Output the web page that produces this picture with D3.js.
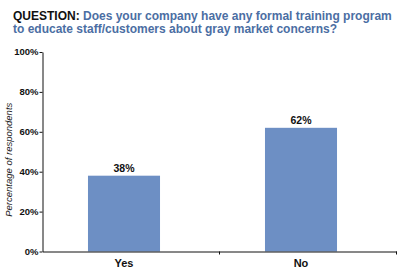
<!DOCTYPE html>
<html>
<head>
<meta charset="utf-8">
<script src="https://cdn.jsdelivr.net/npm/d3@7"></script>
<style>
  body { margin: 0; background: #fff; }
  svg text { font-family: "Liberation Sans", Arial, Helvetica, sans-serif; }
</style>
</head>
<body>
<div id="chart"></div>
<script>
const categories = ["Yes", "No"];
const values = [38, 62];
const yTicks = [0, 20, 40, 60, 80, 100];
const questionLabel = "QUESTION:";
const questionLines = [
    "Does your company have any formal training program",
    "to educate staff/customers about gray market concerns?"
];
const yTitle = "Percentage of respondents";

const WIDTH = 400, HEIGHT = 279;
const MARGIN = {LEFT: 42.5, RIGHT: 3.5, TOP: 52, BOTTOM: 27.5};

const svg = d3.select("#chart").append("svg")
    .attr("width", WIDTH)
    .attr("height", HEIGHT);

// title
const title = svg.append("text")
    .attr("x", 13)
    .attr("y", 20)
    .attr("font-size", 12)
    .attr("font-weight", "bold");
title.append("tspan").attr("fill", "#111").text(questionLabel + " ");
title.append("tspan").attr("fill", "#4b6ea3").text(questionLines[0]);
svg.append("text")
    .attr("x", 13)
    .attr("y", 32.5)
    .attr("font-size", 12)
    .attr("font-weight", "bold")
    .attr("fill", "#4b6ea3")
    .text(questionLines[1]);

const x = d3.scaleBand()
    .domain(categories)
    .range([MARGIN.LEFT, WIDTH - MARGIN.RIGHT]);

// bars sit slightly left of band centres in the original
const xBar = d3.scaleBand()
    .domain(categories)
    .range([MARGIN.LEFT - 7, WIDTH - MARGIN.RIGHT - 7])
    .paddingInner(0.593)
    .paddingOuter(0.2965);

const y = d3.scaleLinear()
    .domain([0, 100])
    .range([HEIGHT - MARGIN.BOTTOM, MARGIN.TOP]);

svg.selectAll(".bar")
    .data(categories)
    .enter().append("rect")
    .attr("class", "bar")
    .attr("x", d => xBar(d))
    .attr("width", xBar.bandwidth())
    .attr("y", (d, i) => y(values[i]))
    .attr("height", (d, i) => y(0) - y(values[i]))
    .attr("fill", "#6d8fc4");

svg.selectAll(".val")
    .data(categories)
    .enter().append("text")
    .attr("class", "val")
    .attr("x", d => xBar(d) + xBar.bandwidth() / 2)
    .attr("y", (d, i) => y(values[i]) - 4)
    .attr("text-anchor", "middle")
    .attr("font-size", 10.5)
    .attr("font-weight", "bold")
    .attr("fill", "#111")
    .text((d, i) => values[i] + "%");

// y axis
const yAxis = svg.append("g")
    .attr("transform", `translate(${MARGIN.LEFT}, 0)`)
    .call(d3.axisLeft(y).tickValues(yTicks).tickFormat(d => d + "%").tickSize(3).tickSizeOuter(0));
yAxis.select(".domain").attr("stroke", "#111");
yAxis.selectAll(".tick line").attr("stroke", "#111");
yAxis.selectAll(".tick text")
    .attr("font-size", 9.5)
    .attr("font-weight", "bold")
    .attr("fill", "#111")
    .attr("x", -4)
    .attr("dy", "0.3em")
    .style("font-family", "'Liberation Sans', Arial, sans-serif");

// x axis
const xAxis = svg.append("g")
    .attr("transform", `translate(0, ${y(0)})`)
    .call(d3.axisBottom(x).tickSize(0).tickSizeOuter(0).tickFormat(""));
xAxis.select(".domain").attr("stroke", "#111");
xAxis.selectAll(".tick").remove();

// band boundary ticks
const bounds = categories.slice(1).map(d => x(d)).concat([x(categories[categories.length - 1]) + x.bandwidth()]);
xAxis.selectAll(".sep")
    .data(bounds)
    .enter().append("line")
    .attr("x1", d => d).attr("x2", d => d)
    .attr("y1", 0).attr("y2", 3)
    .attr("stroke", "#111");

svg.selectAll(".cat")
    .data(categories)
    .enter().append("text")
    .attr("class", "cat")
    .attr("x", d => xBar(d) + xBar.bandwidth() / 2)
    .attr("y", HEIGHT - 12)
    .attr("text-anchor", "middle")
    .attr("font-size", 11)
    .attr("font-weight", "bold")
    .attr("fill", "#111")
    .text(d => d);

svg.append("text")
    .attr("transform", `translate(12, ${(y(0) + y(100)) / 2 + 8}) rotate(-90)`)
    .attr("text-anchor", "middle")
    .attr("font-size", 9.5)
    .attr("font-style", "italic")
    .attr("fill", "#222")
    .text(yTitle);
</script>
</body>
</html>
